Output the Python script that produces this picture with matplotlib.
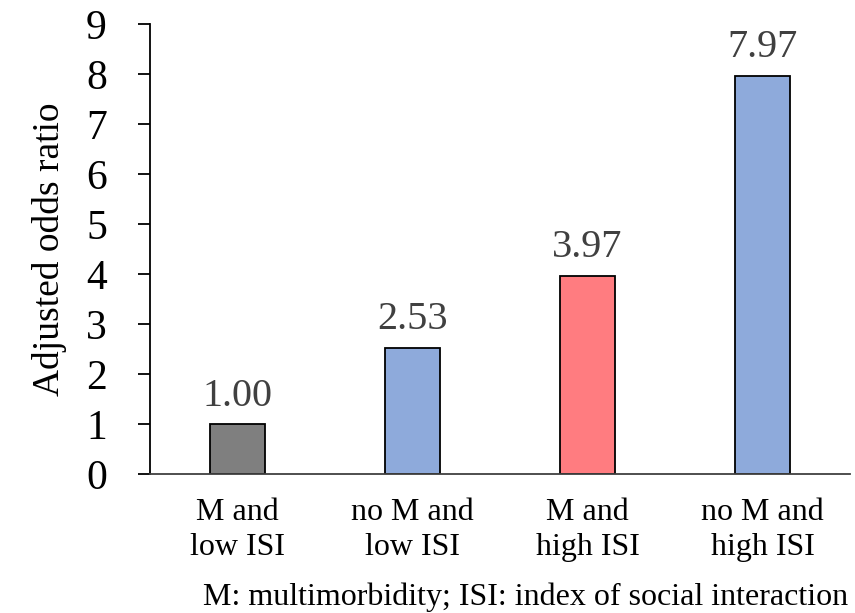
import matplotlib

matplotlib.use("Agg")
import matplotlib.pyplot as plt

# ---- data
categories = ["M and\nlow ISI", "no M and\nlow ISI", "M and\nhigh ISI", "no M and\nhigh ISI"]
odds_ratios = [1.00, 2.53, 3.97, 7.97]
bar_colors = ["#7f7f7f", "#8eaadb", "#ff7c80", "#8eaadb"]
y_ticks = list(range(0, 10))

plt.rcParams["font.family"] = ["Liberation Serif", "DejaVu Serif"]

fig = plt.figure(figsize=(8.55, 6.13), dpi=100)
ax = fig.add_axes([150 / 855, 1 - 474 / 613, 700 / 855, 450 / 613])

x = range(len(categories))
ax.bar(x, odds_ratios, width=55 / 175, color=bar_colors, edgecolor="black", linewidth=1.3, zorder=2)

for xi, val in zip(x, odds_ratios):
    ax.annotate(f"{val:.2f}", xy=(xi, val), xytext=(0, 13), textcoords="offset points",
                ha="center", va="baseline", fontsize=29, color="#404040")

ax.set_xlim(-0.5, 3.5)
ax.set_ylim(0, 9)
ax.set_yticks(y_ticks)
ax.tick_params(axis="y", labelsize=30, length=9, width=1.3, pad=22)
ax.set_xticks(list(x))
ax.set_xticklabels(categories, fontsize=23, linespacing=1.3)
ax.tick_params(axis="x", length=0, pad=17)
ax.set_ylabel("Adjusted odds ratio", fontsize=27, labelpad=14)

for side in ("top", "right"):
    ax.spines[side].set_visible(False)
ax.spines["left"].set_linewidth(1.3)
ax.spines["bottom"].set_linewidth(1.3)
ax.spines["bottom"].set_color("#404040")

fig.text(848 / 855, 1 - 605 / 613, "M: multimorbidity; ISI: index of social interaction",
         ha="right", va="baseline", fontsize=23)

fig.savefig("out.png", dpi=100)
